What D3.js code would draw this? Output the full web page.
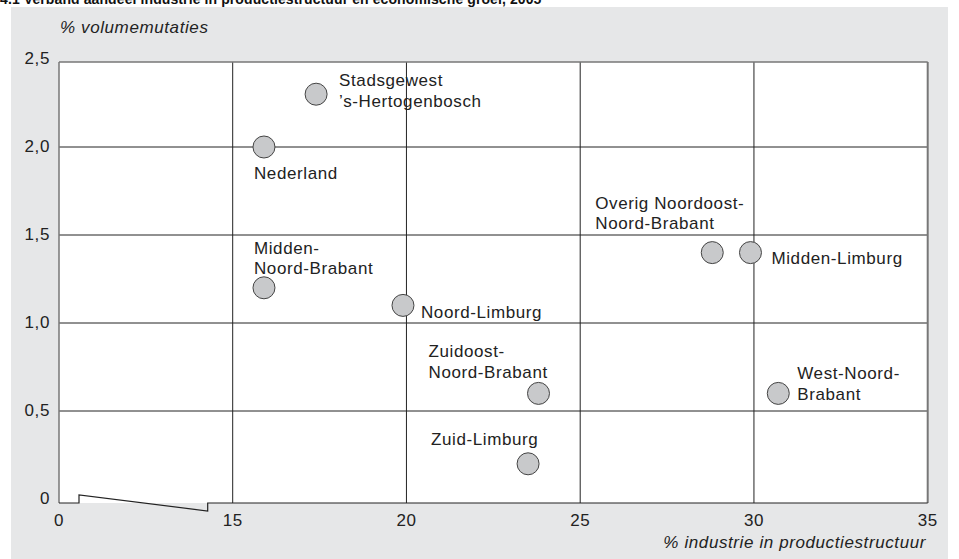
<!DOCTYPE html>
<html>
<head>
<meta charset="utf-8">
<script src="https://cdn.jsdelivr.net/npm/d3@7"></script>
<style>
  html, body { margin: 0; padding: 0; background: #ffffff; }
  svg { display: block; font-family: "Liberation Sans", Arial, sans-serif; }
  .t { font-size: 17px; letter-spacing: 0.6px; fill: #222; }
</style>
</head>
<body>
<svg id="chart" width="959" height="559"></svg>
<script>
// ---- data ----
const regions = ["Stadsgewest 's-Hertogenbosch", "Nederland", "Midden-Noord-Brabant", "Noord-Limburg",
  "Zuidoost-Noord-Brabant", "Zuid-Limburg", "Overig Noordoost-Noord-Brabant", "Midden-Limburg", "West-Noord-Brabant"];
const industryShare = [17.4, 15.9, 15.9, 19.9, 23.8, 23.5, 28.8, 29.9, 30.7];
const volumeGrowth = [2.3, 2.0, 1.2, 1.1, 0.6, 0.2, 1.4, 1.4, 0.6];
const labelLines = [["Stadsgewest", "\u2019s-Hertogenbosch"], ["Nederland"], ["Midden-", "Noord-Brabant"], ["Noord-Limburg"],
  ["Zuidoost-", "Noord-Brabant"], ["Zuid-Limburg"], ["Overig Noordoost-", "Noord-Brabant"], ["Midden-Limburg"], ["West-Noord-", "Brabant"]];
const xTicks = [0, 15, 20, 25, 30, 35];
const yTicks = [0, 0.5, 1.0, 1.5, 2.0, 2.5];
const title = "4.1  Verband aandeel industrie in productiestructuur en economische groei, 2005";
const yTitle = "% volumemutaties";
const xTitle = "% industrie in productiestructuur";

// ---- layout (label offsets in px relative to the marker) ----
const labelLayout = [
  {dx: 23, dy: -8}, {dx: -10, dy: 32}, {dx: -10, dy: -34}, {dx: 18, dy: 13},
  {dx: -110, dy: -36}, {dx: -97, dy: -19}, {dx: -117, dy: -44}, {dx: 21, dy: 11}, {dx: 19, dy: -14}
];

const svg = d3.select("#chart");
const fmt = v => d3.format(".1f")(v).replace(".", ",");

// scales (broken x axis between 0 and 15)
const x = d3.scaleLinear().domain([0, 15, 35]).range([59, 232.7, 927.7]);
const y = d3.scaleLinear().domain([0, 2.5]).range([499, 59]);

const plotTop = y(2.5) + 3, plotBottom = y(0) + 4;

// background panel
svg.append("rect").attr("x", 11).attr("y", 7).attr("width", 937).attr("height", 552).attr("fill", "#e6e7e8");

// title (cut off at top, as in the source)
svg.append("text").attr("x", 0).attr("y", 4).attr("font-size", 14).attr("font-weight", "bold")
  .attr("letter-spacing", 0.1).attr("fill", "#111").text(title);

// plot area
svg.append("rect").attr("x", x(0)).attr("y", plotTop).attr("width", x(35) - x(0)).attr("height", plotBottom - plotTop)
  .attr("fill", "#ffffff");

// grid lines
svg.append("g").selectAll("line").data(yTicks.filter(d => d > 0 && d < 2.5)).join("line")
  .attr("x1", x(0)).attr("x2", x(35)).attr("y1", d => y(d)).attr("y2", d => y(d))
  .attr("stroke", "#222").attr("stroke-width", 1);
svg.append("g").selectAll("line").data(xTicks.filter(d => d > 0 && d < 35)).join("line")
  .attr("x1", d => x(d)).attr("x2", d => x(d)).attr("y1", plotTop).attr("y2", plotBottom)
  .attr("stroke", "#222").attr("stroke-width", 1);

// frame: top and right (gray), left axis (gray)
svg.append("line").attr("x1", x(0)).attr("x2", x(35)).attr("y1", plotTop).attr("y2", plotTop)
  .attr("stroke", "#777").attr("stroke-width", 1.5);
svg.append("line").attr("x1", x(35)).attr("x2", x(35)).attr("y1", plotTop).attr("y2", plotBottom)
  .attr("stroke", "#777").attr("stroke-width", 2);
svg.append("line").attr("x1", x(0)).attr("x2", x(0)).attr("y1", plotTop).attr("y2", plotBottom)
  .attr("stroke", "#777").attr("stroke-width", 1.5);

// bottom axis with break symbol
const bx1 = x(0) + 20, bx2 = x(15) - 25;
const breakPath = d3.path();
breakPath.moveTo(x(0), plotBottom);
breakPath.lineTo(bx1, plotBottom);
breakPath.lineTo(bx1, plotBottom - 8);
breakPath.lineTo(bx2, plotBottom + 8);
breakPath.lineTo(bx2, plotBottom);
breakPath.lineTo(x(35), plotBottom);
svg.append("path").attr("d", breakPath.toString()).attr("fill", "none").attr("stroke", "#222").attr("stroke-width", 1.2);

// axis tick labels
svg.append("g").selectAll("text").data(yTicks).join("text").attr("class", "t")
  .attr("x", 50).attr("y", d => y(d) - 1).attr("dy", "0.35em").attr("text-anchor", "end")
  .text(d => d === 0 ? "0" : fmt(d));
svg.append("g").selectAll("text").data(xTicks).join("text").attr("class", "t")
  .attr("x", d => x(d)).attr("y", 526).attr("text-anchor", "middle")
  .text(d => d);

// axis titles
svg.append("text").attr("class", "t").attr("x", 60).attr("y", 33).attr("font-style", "italic").text(yTitle);
svg.append("text").attr("class", "t").attr("x", 926).attr("y", 548).attr("text-anchor", "end")
  .attr("font-style", "italic").text(xTitle);

// points
const pts = regions.map((r, i) => ({name: r, xv: industryShare[i], yv: volumeGrowth[i], lines: labelLines[i], off: labelLayout[i]}));
svg.append("g").selectAll("circle").data(pts).join("circle")
  .attr("cx", d => x(d.xv)).attr("cy", d => y(d.yv)).attr("r", 11)
  .attr("fill", "#c8c9cb").attr("stroke", "#444").attr("stroke-width", 1);

// labels
const lbl = svg.append("g").selectAll("text").data(pts).join("text").attr("class", "t")
  .attr("x", d => x(d.xv) + d.off.dx).attr("y", d => y(d.yv) + d.off.dy);
lbl.each(function(d) {
  d3.select(this).selectAll("tspan").data(d.lines).join("tspan")
    .attr("x", x(d.xv) + d.off.dx).attr("dy", (t, i) => i === 0 ? 0 : 20.5).text(t => t);
});
</script>
</body>
</html>
